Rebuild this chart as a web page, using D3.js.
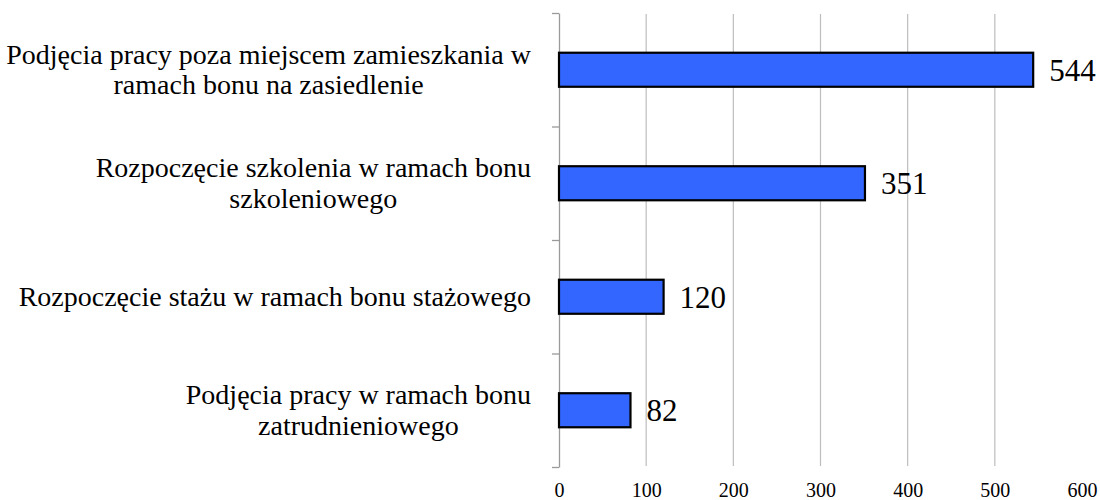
<!DOCTYPE html>
<html>
<head>
<meta charset="utf-8">
<script src="https://cdn.jsdelivr.net/npm/d3@7"></script>
<style>
  body { margin: 0; background: #fff; }
</style>
</head>
<body>
<div id="chart"></div>
<script>
const categories = [
  'Podjęcia pracy poza miejscem zamieszkania w\nramach bonu na zasiedlenie',
  'Rozpoczęcie szkolenia w ramach bonu\nszkoleniowego',
  'Rozpoczęcie stażu w ramach bonu stażowego',
  'Podjęcia pracy w ramach bonu\nzatrudnieniowego',
];
const values = [544, 351, 120, 82];
const xTicks = [0, 100, 200, 300, 400, 500, 600];

const WIDTH = 1100;
const HEIGHT = 500;
const LEFT = 559;
const RIGHT = 1082;
const TOP = 13;
const BOTTOM = 467;
const LABEL_RIGHT = 531;
const LINE_HEIGHT = 30.5;
const SERIF = '"Liberation Serif", "Times New Roman", Times, serif';

const svg = d3
  .create('svg')
  .attr('width', WIDTH)
  .attr('height', HEIGHT)
  .attr('font-family', SERIF);
document.getElementById('chart').appendChild(svg.node());

const xScale = d3.scaleLinear().domain([0, 600]).range([LEFT, RIGHT]);
const yScale = d3
  .scaleBand()
  .domain(categories)
  .range([TOP, BOTTOM])
  .paddingInner(0.7)
  .paddingOuter(0.35);

// vertical gridlines
svg
  .append('g')
  .selectAll('line')
  .data(xTicks.filter((t) => t > 0 && t < 600))
  .join('line')
  .attr('x1', (d) => xScale(d))
  .attr('x2', (d) => xScale(d))
  .attr('y1', TOP + 1)
  .attr('y2', BOTTOM - 1)
  .attr('stroke', '#bdbdbd')
  .attr('stroke-width', 1.2);

// x tick labels
const axisBottom = d3
  .axisBottom(xScale)
  .tickValues(xTicks)
  .tickSize(0)
  .tickPadding(16);
const gx = svg
  .append('g')
  .attr('transform', `translate(0, ${BOTTOM})`)
  .call(axisBottom)
  .attr('font-family', SERIF)
  .attr('font-size', 20);
gx.select('.domain').remove();
gx.selectAll('text').attr('fill', '#000');

// category axis with ticks at band boundaries
const boundary = d3
  .scaleLinear()
  .domain([0, categories.length])
  .range([TOP, BOTTOM]);
const axisLeft = d3
  .axisLeft(boundary)
  .tickValues(d3.range(categories.length + 1))
  .tickFormat('')
  .tickSize(7)
  .tickSizeOuter(0);
const gy = svg
  .append('g')
  .attr('transform', `translate(${LEFT}, 0)`)
  .call(axisLeft);
gy.select('.domain').attr('stroke', '#9a9a9a').attr('stroke-width', 1.3);
gy.selectAll('.tick line').attr('stroke', '#9a9a9a').attr('stroke-width', 1.3);

// bars
svg
  .append('g')
  .selectAll('rect')
  .data(values)
  .join('rect')
  .attr('x', xScale(0))
  .attr('y', (d, i) => yScale(categories[i]))
  .attr('width', (d) => xScale(d) - xScale(0))
  .attr('height', yScale.bandwidth())
  .attr('fill', '#3366ff')
  .attr('stroke', '#000')
  .attr('stroke-width', 2.2);

// value labels
svg
  .append('g')
  .attr('font-size', 31)
  .selectAll('text')
  .data(values)
  .join('text')
  .attr('x', (d) => xScale(d) + 16)
  .attr('y', (d, i) => yScale(categories[i]) + yScale.bandwidth() / 2 + 11)
  .attr('fill', '#000')
  .text((d) => d);

// category labels: lines centred within a right-aligned block
const labelGroup = svg.append('g').attr('font-size', 28).attr('fill', '#000');
categories.forEach((c) => {
  const lines = c.split('\n');
  const center = yScale(c) + yScale.bandwidth() / 2;
  const firstBaseline = center + 9 - ((lines.length - 1) * LINE_HEIGHT) / 2;
  const texts = labelGroup
    .append('g')
    .selectAll('text')
    .data(lines)
    .join('text')
    .attr('y', (d, i) => firstBaseline + i * LINE_HEIGHT)
    .attr('text-anchor', 'middle')
    .text((d) => d);
  const maxWidth = d3.max(texts.nodes(), (n) => n.getComputedTextLength());
  texts.attr('x', LABEL_RIGHT - maxWidth / 2);
});
</script>
</body>
</html>
